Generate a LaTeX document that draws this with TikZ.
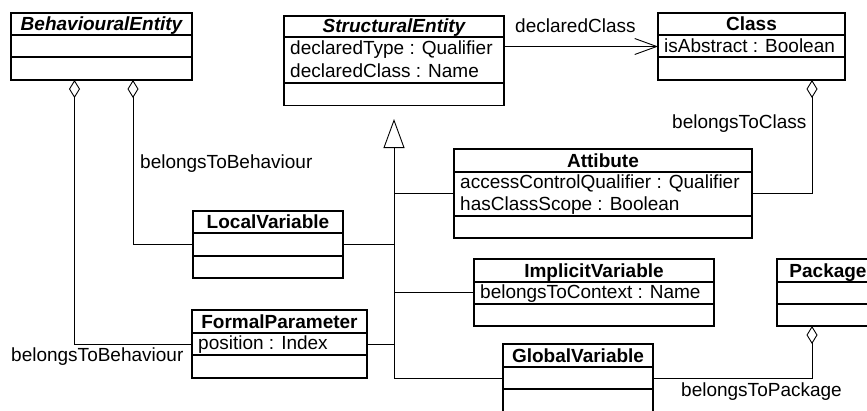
\documentclass[tikz,border=0pt]{standalone}
\usepackage{fontspec}
\setmainfont{Liberation Sans}
\usetikzlibrary{arrows.meta}
\newcommand\umlclass[8]{% name, left, top, right, hdr, div, bottom, title
  \node[box, anchor=north west, minimum width={#4-#2}, minimum height={#7-#3}] (#1) at (#2,#3) {};
  \draw[rule] (#2,#5) -- (#4,#5);
  \draw[rule] (#2,#6) -- (#4,#6);
  \node[ttl] (#1-title) at ({(#2+#4)/2},{#5-5}) {#8};
}
\begin{document}
\begin{tikzpicture}[x=1pt,y=-1pt,
  font=\fontsize{19}{22}\selectfont,
  box/.style={draw, line width=1.2pt, inner sep=0pt, outer sep=0pt},
  rule/.style={line width=1.2pt},
  ttl/.style={anchor=base, inner sep=0pt, font=\fontsize{19}{22}\selectfont\bfseries},
  attr/.style={anchor=base west, inner sep=0pt},
  lbl/.style={anchor=base west, inner sep=0pt},
  conn/.style={line width=0.9pt},
  agg/.style={conn, {Diamond[open, length=18pt, width=11pt]}-},
  assoc/.style={conn, -{Straight Barb[length=22pt, width=16pt]}},
  gen/.style={conn, -{Triangle[open, length=29pt, width=21pt]}, shorten >=13.5pt}
]
\useasboundingbox (0,0) rectangle (867,410);
\clip (0,0) rectangle (867,410);

% classes
\umlclass{be}{11}{13}{192}{35}{57}{80}{\itshape BehaviouralEntity}
\umlclass{se}{284}{16}{504}{37}{83}{105.5}{\itshape StructuralEntity}
\node[attr] (se-a1) at (290,54) {declaredType : Qualifier};
\node[attr] (se-a2) at (290,77) {declaredClass : Name};
\umlclass{cls}{658}{13}{845}{35}{57}{80}{Class}
\node[attr] (cls-a1) at (664,52) {isAbstract : Boolean};
\umlclass{at}{454}{149}{752}{172}{216}{238}{Attibute}
\node[attr] (at-a1) at (460,188) {accessControlQualifier : Qualifier};
\node[attr] (at-a2) at (460,210) {hasClassScope : Boolean};
\umlclass{lv}{193}{211}{343}{233}{256}{278}{LocalVariable}
\umlclass{iv}{474}{259}{714}{282}{304}{326}{ImplicitVariable}
\node[attr] (iv-a1) at (480,298) {belongsToContext : Name};
\umlclass{fp}{192}{310}{367}{333}{355}{378}{FormalParameter}
\node[attr] (fp-a1) at (198,349) {position : Index};
\umlclass{gv}{503}{344}{653}{367}{389}{412}{GlobalVariable}
\umlclass{pk}{777}{259}{879}{282}{304}{326}{Package}

% helper coordinates
\coordinate (x74) at (74.5,0);
\coordinate (x133) at (133,0);
\coordinate (x812) at (812,0);
\coordinate (tk) at (394,0);

% aggregations
\draw[agg] (be.south -| x74) |- (fp.west);
\draw[agg] (be.south -| x133) |- (lv.west);
\draw[agg] (cls.south -| x812) |- (at.east);
\draw[agg] (pk.south -| x812) |- (gv.east);

% association
\draw[assoc] (se.east |- cls.west) -- (cls.west);

% generalization
\draw[gen] (gv.west) -| (se.south -| tk);
\draw[conn] (at.west) -- (at.west -| tk);
\draw[conn] (lv.east) -- (lv.east -| tk);
\draw[conn] (iv.west) -- (iv.west -| tk);
\draw[conn] (fp.east) -- (fp.east -| tk);

% labels
\node[lbl] (l1) at (140,168) {belongsToBehaviour};
\node[lbl] (l2) at (11,361) {belongsToBehaviour};
\node[lbl] (l3) at (515,32) {declaredClass};
\node[lbl] (l4) at (672,128) {belongsToClass};
\node[lbl] (l5) at (681,396) {belongsToPackage};
\end{tikzpicture}
\end{document}
